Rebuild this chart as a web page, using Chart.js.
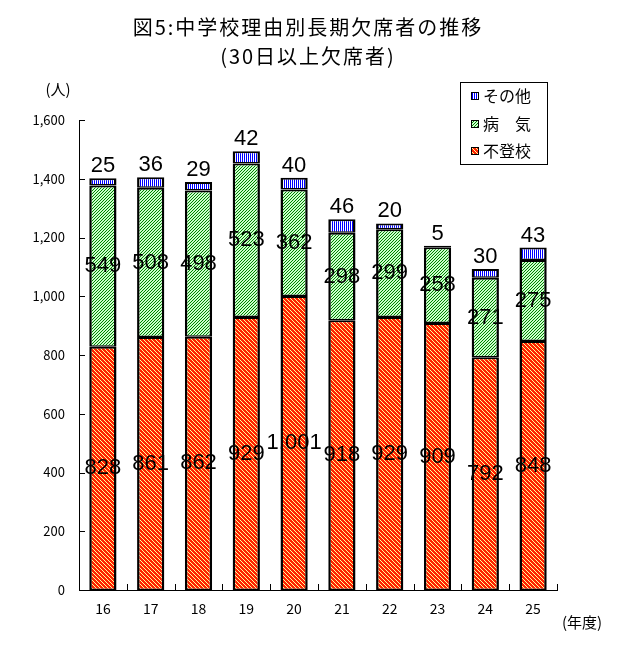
<!DOCTYPE html>
<html>
<head>
<meta charset="utf-8">
<script src="https://cdn.jsdelivr.net/npm/chart.js@4"></script>
<style>
  html, body { margin: 0; padding: 0; background: #fff; }
  #wrap { width: 617px; height: 656px; }
</style>
</head>
<body>
<div id="wrap"><canvas id="grafica"></canvas></div>
<script>
// Datos del gráfico
const anios = ['16', '17', '18', '19', '20', '21', '22', '23', '24', '25'];
const futoko = [828, 861, 862, 929, 1001, 918, 929, 909, 792, 848];
const byoki = [549, 508, 498, 523, 362, 298, 299, 258, 271, 275];
const sonota = [25, 36, 29, 42, 40, 46, 20, 5, 30, 43];
const ticksY = [0, 200, 400, 600, 800, 1000, 1200, 1400, 1600];

const fuenteJP = "'Noto Sans CJK JP', 'Noto Sans', sans-serif";

// Patrón de relleno a partir de una pequeña baldosa
function crearPatron(w, h, fondo, color, esLinea) {
    const c = document.createElement('canvas');
    c.width = w; c.height = h;
    const g = c.getContext('2d');
    g.fillStyle = fondo;
    g.fillRect(0, 0, w, h);
    g.fillStyle = color;
    for (let x = 0; x < w; x++) {
        for (let y = 0; y < h; y++) {
            if (esLinea(x, y)) g.fillRect(x, y, 1, 1);
        }
    }
    return g.createPattern(c, 'repeat');
}

const ctx = document.getElementById('grafica').getContext('2d');
const patRojo = crearPatron(4, 4, '#ff2200', '#ffff99', (x, y) => (x - y + 4) % 4 === 0);
const patVerde = crearPatron(3, 3, '#ccffcc', '#008000', (x, y) => (x + y) % 3 === 0);
const patAzul = crearPatron(2, 1, '#ffffff', '#0000ff', (x, y) => x % 2 === 0);

const borde = { top: 2, left: 2.5, right: 2.5, bottom: 1.5 };

// Título, unidades y leyenda
const textos = {
    id: 'textos',
    afterDraw(chart) {
        const c = chart.ctx;
        c.save();
        c.fillStyle = '#000';
        c.textAlign = 'center';
        c.textBaseline = 'middle';
        c.font = '20px ' + fuenteJP;
        c.letterSpacing = '2px';
        c.fillText('図5:中学校理由別長期欠席者の推移', 308, 27);
        c.fillText('(30日以上欠席者)', 308, 56);
        c.letterSpacing = '0px';
        c.font = '15px ' + fuenteJP;
        c.fillText('(人)', 58, 89);
        c.fillText('(年度)', 582, 622);

        // leyenda
        c.strokeStyle = '#000';
        c.lineWidth = 1;
        c.strokeRect(460.5, 82.5, 87, 82);
        const items = [
            ['その他', patAzul, 96],
            ['病\u3000気', patVerde, 124],
            ['不登校', patRojo, 151]
        ];
        c.textAlign = 'left';
        c.font = '16px ' + fuenteJP;
        items.forEach(([t, p, y]) => {
            c.fillStyle = p;
            c.fillRect(471, y - 4, 8, 8);
            c.strokeRect(471.5, y - 3.5, 7, 7);
            c.fillStyle = '#000';
            c.fillText(t, 483, y);
        });
        c.restore();
    }
};

// Marcas hacia dentro en los ejes
const marcas = {
    id: 'marcas',
    afterDraw(chart) {
        const c = chart.ctx;
        const x = chart.scales.x, y = chart.scales.y;
        const a = chart.chartArea;
        c.save();
        c.strokeStyle = '#000';
        c.lineWidth = 1;
        c.beginPath();
        ticksY.forEach(v => {
            const py = Math.round(y.getPixelForValue(v)) + 0.5;
            c.moveTo(a.left, py);
            c.lineTo(a.left + 6, py);
        });
        const paso = x.getPixelForValue(1) - x.getPixelForValue(0);
        for (let i = 1; i <= anios.length; i++) {
            const px = Math.round(x.getPixelForValue(i - 1) + paso / 2) + 0.5;
            c.moveTo(px, a.bottom);
            c.lineTo(px, a.bottom - 6);
        }
        c.stroke();
        c.restore();
    }
};

// Etiquetas de valores
const etiquetas = {
    id: 'etiquetas',
    afterDatasetsDraw(chart) {
        const c = chart.ctx;
        c.save();
        c.fillStyle = '#000';
        c.font = "22px 'Liberation Sans', Arial, sans-serif";
        c.textAlign = 'center';
        chart.data.datasets.forEach((ds, di) => {
            const meta = chart.getDatasetMeta(di);
            meta.data.forEach((bar, i) => {
                const txt = ds.data[i].toLocaleString('en-US');
                if (di === 2) {
                    c.textBaseline = 'bottom';
                    c.fillText(txt, bar.x, bar.y - 1);
                } else {
                    c.textBaseline = 'middle';
                    c.fillText(txt, bar.x, (bar.y + bar.base) / 2);
                }
            });
        });
        c.restore();
    }
};

new Chart(ctx, {
    type: 'bar',
    data: {
        labels: anios,
        datasets: [
            { label: '不登校', data: futoko, backgroundColor: patRojo, borderColor: '#000', borderWidth: borde, borderSkipped: false },
            { label: '病\u3000気', data: byoki, backgroundColor: patVerde, borderColor: '#000', borderWidth: borde, borderSkipped: false },
            { label: 'その他', data: sonota, backgroundColor: patAzul, borderColor: '#000', borderWidth: borde, borderSkipped: false }
        ]
    },
    options: {
        responsive: true,
        maintainAspectRatio: false,
        animation: false,
        datasets: { bar: { categoryPercentage: 1, barPercentage: 0.57 } },
        layout: { padding: { top: 120, right: 60, bottom: 0, left: 0 } },
        plugins: {
            legend: { display: false },
            title: { display: false },
            tooltip: { enabled: false }
        },
        scales: {
            x: {
                stacked: true,
                grid: { display: false, drawTicks: false },
                border: { display: true, color: '#000', width: 1 },
                ticks: {
                    color: '#000',
                    padding: 10,
                    font: { family: fuenteJP, size: 14 }
                },
                afterFit(s) { s.height = 66; }
            },
            y: {
                stacked: true,
                min: 0,
                max: 1600,
                grid: { display: false, drawTicks: false },
                border: { display: true, color: '#000', width: 1 },
                ticks: {
                    stepSize: 200,
                    color: '#000',
                    padding: 14,
                    font: { family: fuenteJP, size: 13 },
                    callback: v => v.toLocaleString('en-US')
                },
                afterFit(s) { s.width = 79; }
            }
        }
    },
    plugins: [etiquetas, marcas, textos]
});
</script>
</body>
</html>
